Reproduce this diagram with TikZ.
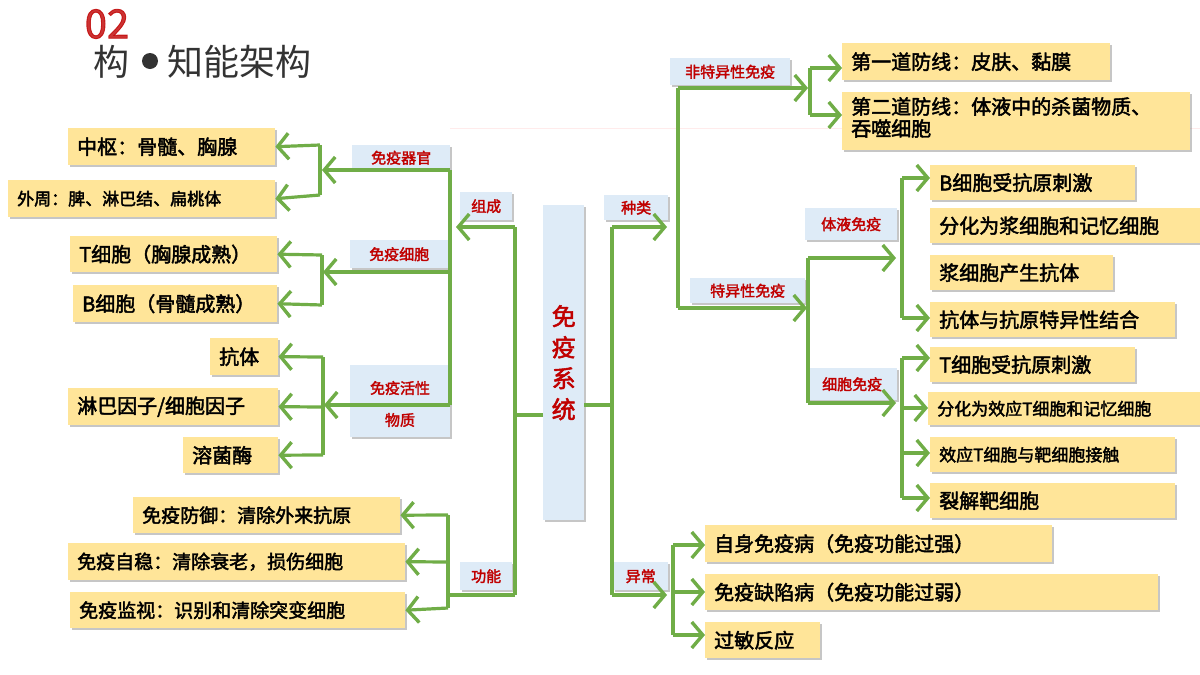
\documentclass[tikz,border=0pt]{standalone}
\usepackage{fontspec}
\setmainfont{Noto Sans CJK SC}
\newfontfamily\cjkb{Noto Sans CJK SC}[FakeBold=2.2]
\usetikzlibrary{arrows.meta,shadows}
\definecolor{gr}{RGB}{112,173,71}
\definecolor{yel}{RGB}{255,229,153}
\definecolor{lb}{RGB}{222,235,247}
\definecolor{rd}{RGB}{192,0,0}
\tikzset{
 box/.style={inner sep=0pt,draw=none,drop shadow={opacity=0.45,shadow xshift=2pt,shadow yshift=-2pt,fill=gray}},
 ybox/.style={box,fill=yel},
 lbox/.style={box,fill=lb,text=rd,font=\cjkb\fontsize{15}{17}\selectfont},
 ytext/.style={anchor=west,inner sep=0pt,font=\cjkb\fontsize{20}{26}\selectfont,align=left},
 ln/.style={draw=gr,line width=3.2pt},
 arr/.style={ln,-{Straight Barb[length=11pt,width=26pt,line width=3.4pt]}},
}
% \yb{name}{x1}{y1}{x2}{y2}{text}{size}
\newcommand\yb[7]{%
 \node[ybox,anchor=north west,minimum width={(#4-#2)*1pt},minimum height={(#5-#3)*1pt}] (#1) at (#2,-#3) {};
 \node[ytext,font=\cjkb\fontsize{#7}{#7}\selectfont] (#1t) at ([xshift=9pt]#1.west) {#6};}
\newcommand\lbx[6]{%
 \node[lbox,anchor=north west,minimum width={(#4-#2)*1pt},minimum height={(#5-#3)*1pt},align=center] (#1) at (#2,-#3) {#6};}
\begin{document}
\begin{tikzpicture}[x=1pt,y=1pt]
\useasboundingbox (0,0) rectangle (1200,-675);
% title
\node[text=red!75!black,opacity=0.8,font=\cjkb\fontsize{40}{40}\selectfont,inner sep=0pt] (num) at (107,-24) {02};
\node[anchor=west,inner sep=0pt,text=black!80,font=\fontsize{36}{36}\selectfont] (tt) at (93,-62) {构\hspace{1.05em}知能架构};
\fill[black!80] (150,-61) circle (8);
\draw[red!8,line width=1pt] (450,-128) -- (1200,-128);

% center
\node[box,fill=lb,anchor=north west,minimum width=41pt,minimum height=315pt,text=rd,align=center,font=\cjkb\fontsize{24}{31}\selectfont] (sys) at (543,-205) {免\\疫\\系\\统};

% left labels
\lbx{zc}{460}{192}{512}{220}{组成}
\lbx{gn}{460}{562}{512}{590}{功能}
\lbx{qg}{352}{145}{450}{170}{免疫器官}
\lbx{xb}{350}{240}{448}{268}{免疫细胞}
\node[box,fill=lb,anchor=north west,minimum width=100pt,minimum height=72pt] (hx) at (350,-365) {};
\node[text=rd,font=\cjkb\fontsize{15}{17}\selectfont] (hx1) at (400,-388) {免疫活性};
\node[text=rd,font=\cjkb\fontsize{15}{17}\selectfont] (hx2) at (400,-420) {物质};
\fill[white] (350,-403) rectangle (450,-405);

% left boxes
\yb{a1}{68}{128}{275}{165}{中枢：骨髓、胸腺}{20}
\yb{a2}{8}{180}{275}{217}{外周：脾、淋巴结、扁桃体}{17}
\yb{b1}{70}{236}{277}{272}{T细胞（胸腺成熟）}{20}
\yb{b2}{73}{285}{277}{322}{B细胞（骨髓成熟）}{20}
\yb{c1}{210}{338}{278}{375}{抗体}{20}
\yb{c2}{68}{388}{278}{425}{淋巴因子/细胞因子}{20}
\yb{c3}{183}{437}{278}{473}{溶菌酶}{20}
\yb{d1}{133}{497}{400}{533}{免疫防御：清除外来抗原}{19}
\yb{d2}{68}{543}{405}{580}{免疫自稳：清除衰老，损伤细胞}{19}
\yb{d3}{70}{592}{405}{628}{免疫监视：识别和清除突变细胞}{19}

% left connectors
\coordinate (jl) at (515,-415);
\coordinate (jlt) at (515,-227);
\coordinate (jlb) at (515,-595);
\draw[ln] (sys.west|-jl) -- (jl);
\draw[ln] (jlt) -- (jlb);
\draw[arr] (jlt) -- (456,-227);
\coordinate (v1t) at (450,-170); \coordinate (v1b) at (450,-405);
\draw[ln] (v1t) -- (v1b);
\draw[arr] (v1t) -- (322,-170);
\draw[arr] (450,-272) -- (323,-272);
\draw[arr] (v1b) -- (324,-405);
\draw[ln] (320,-145) -- (320,-195);
\draw[arr] (320,-145) -- (a1.east);
\draw[arr] (320,-195) -- (a2.east);
\draw[ln] (322,-255) -- (322,-305);
\draw[arr] (322,-255) -- (b1.east);
\draw[arr] (322,-305) -- (b2.east);
\draw[ln] (323,-357) -- (323,-455);
\draw[arr] (323,-357) -- (c1.east);
\draw[arr] (323,-407) -- (c2.east);
\draw[arr] (323,-455) -- (c3.east);
\draw[ln] (jlb) -- (448,-595);
\draw[ln] (448,-515) -- (448,-608);
\draw[arr] (448,-515) -- (d1.east);
\draw[arr] (448,-562) -- (d2.east);
\draw[arr] (448,-608) -- (d3.east);

% right labels
\lbx{zl}{604}{195}{668}{220}{种类}
\lbx{yc}{613}{562}{668}{590}{异常}
\lbx{fty}{670}{58}{790}{85}{非特异性免疫}
\lbx{ty}{690}{278}{805}{303}{特异性免疫}
\lbx{ty1}{805}{208}{897}{240}{体液免疫}
\lbx{xb2}{807}{368}{897}{400}{细胞免疫}

% right boxes
\yb{e1}{842}{43}{1110}{80}{第一道防线：皮肤、黏膜}{20}
\node[ybox,anchor=north west,minimum width=348pt,minimum height=58pt] (e2) at (842,-92) {};
\node[ytext,anchor=north west,font=\cjkb\fontsize{20}{22}\selectfont] (e2t) at (851,-97) {第二道防线：体液中的杀菌物质、\\吞噬细胞};
\yb{f1}{930}{165}{1135}{200}{B细胞受抗原刺激}{20}
\yb{f2}{930}{208}{1200}{243}{分化为浆细胞和记忆细胞}{20}
\yb{f3}{930}{255}{1113}{290}{浆细胞产生抗体}{20}
\yb{f4}{930}{302}{1175}{337}{抗体与抗原特异性结合}{20}
\yb{g1}{930}{347}{1135}{382}{T细胞受抗原刺激}{20}
\yb{g2}{928}{392}{1200}{425}{分化为效应T细胞和记忆细胞}{17}
\yb{g3}{930}{437}{1175}{472}{效应T细胞与靶细胞接触}{17}
\yb{g4}{930}{483}{1175}{518}{裂解靶细胞}{20}
\yb{h1}{705}{525}{1052}{562}{自身免疫病（免疫功能过强）}{20}
\yb{h2}{705}{574}{1158}{610}{免疫缺陷病（免疫功能过弱）}{20}
\yb{h3}{705}{622}{820}{658}{过敏反应}{20}

% right connectors
\coordinate (jr) at (612,-405);
\coordinate (jrt) at (612,-227);
\coordinate (jrb) at (612,-595);
\draw[ln] (sys.east|-jr) -- (jr);
\draw[ln] (jrt) -- (jrb);
\draw[arr] (jrt) -- (667,-227);
\draw[arr] (jrb) -- (667,-595);
\draw[ln] (678,-88) -- (678,-308);
\draw[arr] (678,-88) -- (808,-88);
\draw[arr] (678,-308) -- (807,-308);
\draw[ln] (810,-68) -- (810,-115);
\draw[arr] (810,-68) -- (e1.west|-0,-68);
\draw[arr] (810,-115) -- (e2.west|-0,-115);
\draw[ln] (808,-258) -- (808,-403);
\draw[arr] (808,-258) -- (896,-258);
\draw[arr] (808,-403) -- (896,-403);
\draw[ln] (902,-178) -- (902,-318);
\draw[arr] (902,-178) -- (f1.west|-0,-178);
\draw[arr] (902,-318) -- (f4.west|-0,-318);
\draw[ln] (902,-358) -- (902,-498);
\draw[arr] (902,-358) -- (g1.west|-0,-358);
\draw[arr] (902,-408) -- (g2.west|-0,-408);
\draw[arr] (902,-453) -- (g3.west|-0,-453);
\draw[arr] (902,-498) -- (g4.west|-0,-498);
\draw[ln] (673,-545) -- (673,-635);
\draw[arr] (673,-545) -- (h1.west|-0,-545);
\draw[arr] (673,-592) -- (h2.west|-0,-592);
\draw[arr] (673,-635) -- (h3.west|-0,-635);
\end{tikzpicture}
\end{document}
